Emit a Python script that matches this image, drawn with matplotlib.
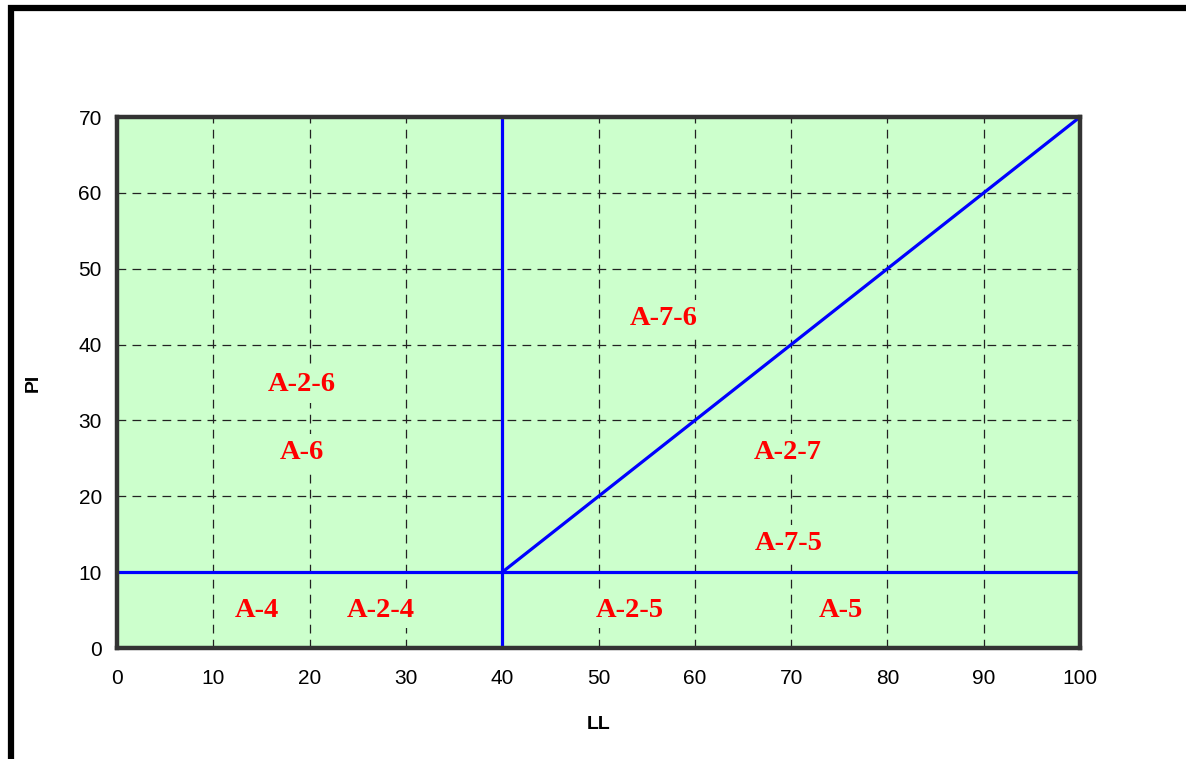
import matplotlib
matplotlib.use("Agg")
import matplotlib.pyplot as plt
from matplotlib.patches import Rectangle

# Data
x_ticks = [0, 10, 20, 30, 40, 50, 60, 70, 80, 90, 100]
y_ticks = [0, 10, 20, 30, 40, 50, 60, 70]

# Boundary lines (LL, PI)
pi10_x = [0, 100]
pi10_y = [10, 10]
ll40_x = [40, 40]
ll40_y = [0, 70]
diag_x = [40, 100]
diag_y = [10, 70]

labels = ["A-7-6", "A-2-6", "A-6", "A-2-7", "A-7-5", "A-4", "A-2-4", "A-2-5", "A-5"]
label_x = [56.8, 19.2, 19.2, 69.7, 69.7, 14.5, 27.4, 53.2, 75.2]
label_y = [43.5, 34.7, 25.8, 25.8, 13.8, 5.0, 5.0, 5.0, 5.0]

bg = "#CCFFCC"

fig = plt.figure(figsize=(11.86, 7.59), dpi=100)
ax = fig.add_axes([0.0987, 0.1462, 0.9106 - 0.0987, 0.8458 - 0.1462])
ax.set_facecolor(bg)
ax.set_xlim(0, 100)
ax.set_ylim(0, 70)
ax.set_xticks(x_ticks)
ax.set_yticks(y_ticks)
ax.tick_params(length=0, labelsize=15)
ax.tick_params(axis="x", pad=15)
ax.tick_params(axis="y", pad=11)
for lab in ax.get_xticklabels() + ax.get_yticklabels():
    lab.set_family("Liberation Sans")

ax.grid(True, color="#222222", linestyle=(0, (7, 5)), linewidth=0.9, zorder=1)
ax.set_axisbelow(True)

for s in ax.spines.values():
    s.set_linewidth(3.2)
    s.set_color("#333333")
    s.set_zorder(5)

for xs, ys in [(pi10_x, pi10_y), (ll40_x, ll40_y), (diag_x, diag_y)]:
    ax.plot(xs, ys, color="#0000FF", linewidth=2.3, zorder=4, solid_capstyle="butt")

for t, x, y in zip(labels, label_x, label_y):
    ax.text(x, y, t, ha="center", va="center", fontsize=20.5, fontweight="bold",
            family="Liberation Serif", color="#FF0000", zorder=3,
            bbox=dict(facecolor=bg, edgecolor="none", pad=4))

ax.set_xlabel("LL", fontsize=14, fontweight="bold", family="Liberation Sans")
ax.set_ylabel("PI", fontsize=14, fontweight="bold", family="Liberation Sans")
ax.xaxis.set_label_coords(0.5, -0.128)
ax.yaxis.set_label_coords(-0.078, 0.5)

frame = Rectangle((11 / 1186, -0.5), 2.0, (1 - 8 / 759) + 0.5, transform=fig.transFigure,
                  fill=False, edgecolor="black", linewidth=4.5, clip_on=False)
fig.patches.append(frame)

fig.savefig("out.png", dpi=100)
